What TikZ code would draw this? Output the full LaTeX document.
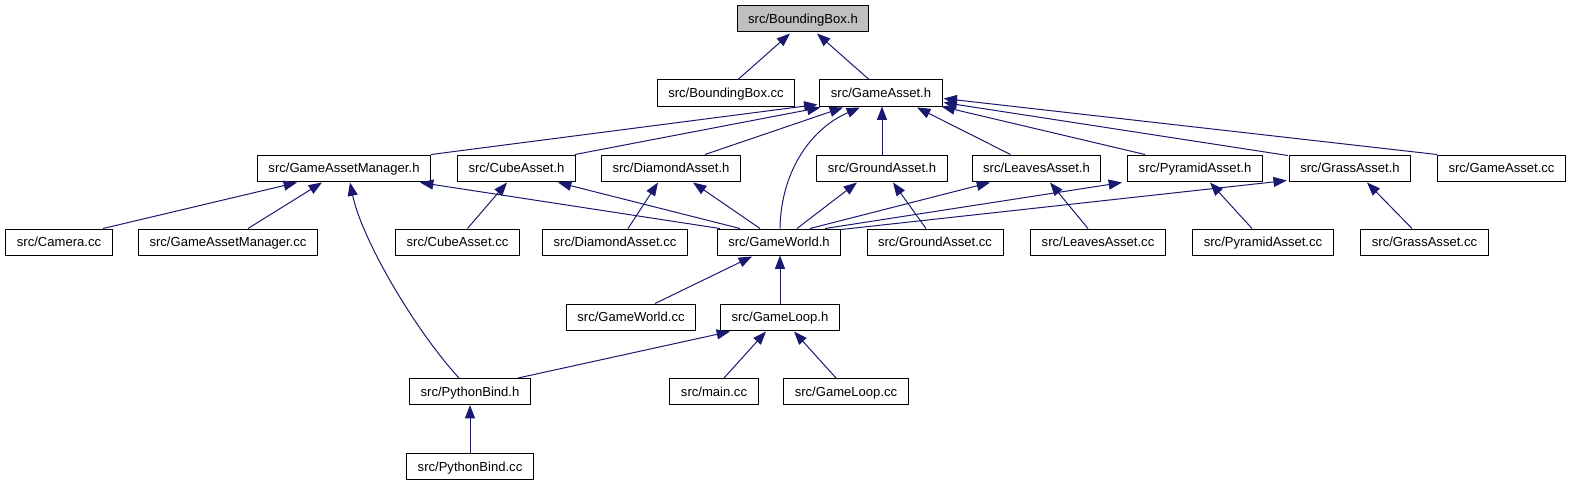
\documentclass[tikz,border=0pt]{standalone}
\usepackage{fontspec}
\setmainfont{Liberation Sans}
\usetikzlibrary{calc,arrows.meta}
\definecolor{edgecol}{RGB}{25,25,112}
\definecolor{hdrgray}{RGB}{191,191,191}
\begin{document}
\begin{tikzpicture}[x=0.75pt,y=-0.75pt,
  box/.style={draw=black, line width=0.75pt, fill=white, minimum height=19.5pt,
    inner xsep=8.25pt, inner ysep=0pt, text height=7.1pt, text depth=0pt,
    font=\fontsize{9.8}{11}\selectfont},
  edge/.style={draw=edgecol, line width=0.75pt, -{Triangle[length=10pt,width=7.5pt]}}]
\useasboundingbox[fill=white] (0,0) rectangle (1573,485);
% row 0
\node[box, fill=hdrgray] (bbh) at (803,19) {src/BoundingBox.h};
% row 1
\node[box] (bbcc) at (726,93) {src/BoundingBox.cc};
\node[box] (gah) at (881,93) {src/GameAsset.h};
% row 2
\node[box] (gamh) at (344,168) {src/GameAssetManager.h};
\node[box] (cubeh) at (516.5,168) {src/CubeAsset.h};
\node[box] (diah) at (671,168) {src/DiamondAsset.h};
\node[box] (groundh) at (882,168) {src/GroundAsset.h};
\node[box] (leavesh) at (1036.5,168) {src/LeavesAsset.h};
\node[box] (pyrh) at (1195,168) {src/PyramidAsset.h};
\node[box] (grassh) at (1350,168) {src/GrassAsset.h};
\node[box] (gacc) at (1501.5,168) {src/GameAsset.cc};
% row 3
\node[box] (camera) at (59,242) {src/Camera.cc};
\node[box] (gamcc) at (228,242) {src/GameAssetManager.cc};
\node[box] (cubecc) at (457.5,242) {src/CubeAsset.cc};
\node[box] (diacc) at (615,242) {src/DiamondAsset.cc};
\node[box] (gwh) at (779,242) {src/GameWorld.h};
\node[box] (groundcc) at (935,242) {src/GroundAsset.cc};
\node[box] (leavescc) at (1098,242) {src/LeavesAsset.cc};
\node[box] (pyrcc) at (1263,242) {src/PyramidAsset.cc};
\node[box] (grasscc) at (1424.5,242) {src/GrassAsset.cc};
% row 4
\node[box] (gwcc) at (631,317) {src/GameWorld.cc};
\node[box] (glh) at (780,317) {src/GameLoop.h};
% row 5
\node[box] (pbh) at (470,391.5) {src/PythonBind.h};
\node[box] (mainc) at (714,391.5) {src/main.cc};
\node[box] (glcc) at (846,391.5) {src/GameLoop.cc};
% row 6
\node[box] (pbcc) at (470,466.5) {src/PythonBind.cc};
% edges to BoundingBox.h
\draw[edge] ($(bbcc.north)+(12,0)$) -- ($(bbh.south)+(-13,1)$);
\draw[edge] ($(gah.north)+(-12,0)$) -- ($(bbh.south)+(14,1)$);
% edges to GameAsset.h
\draw[edge] ($(gamh.north east)+(0,0)$) -- ($(gah.south west)+(-2,-2)$);
\draw[edge] ($(cubeh.north east)+(-1,0)$) -- ($(gah.south west)+(1,1)$);
\draw[edge] ($(diah.north)+(34,0)$) -- ($(gah.south)+(-38,1)$);
\draw[edge] ($(gwh.north)+(1,0)$) .. controls (781,170) and (812,128) .. ($(gah.south)+(-21,1)$);
\draw[edge] (groundh.north) -- (groundh.north |- gah.south);
\draw[edge] ($(leavesh.north)+(-26,0)$) -- ($(gah.south)+(36,1)$);
\draw[edge] ($(pyrh.north)+(-50,0)$) -- ($(gah.south east)+(-1,0)$);
\draw[edge] ($(grassh.north west)+(-1,1)$) -- ($(gah.south east)+(1,-4)$);
\draw[edge] ($(gacc.north west)+(0,0)$) -- ($(gah.south east)+(1,-8)$);
% edges to GameAssetManager.h
\draw[edge] ($(camera.north)+(44,0)$) -- ($(gamh.south)+(-47,1)$);
\draw[edge] ($(gamcc.north)+(20,0)$) -- ($(gamh.south)+(-22,1)$);
\draw[edge] ($(pbh.north)+(-11,0)$) .. controls (415,330) and (362,240) .. ($(gamh.south)+(6,1)$);
\draw[edge] ($(gwh.north west)+(3,0)$) -- ($(gamh.south)+(76,1)$);
% edges to CubeAsset.h / DiamondAsset.h
\draw[edge] ($(cubecc.north)+(10,0)$) -- ($(cubeh.south)+(-9.5,1)$);
\draw[edge] ($(gwh.north)+(-39,0)$) -- ($(cubeh.south)+(41.5,1)$);
\draw[edge] ($(diacc.north)+(13,0)$) -- ($(diah.south)+(-13,1)$);
\draw[edge] ($(gwh.north)+(-19,0)$) -- ($(diah.south)+(22,1)$);
% edges to GroundAsset.h / LeavesAsset.h / PyramidAsset.h / GrassAsset.h
\draw[edge] ($(gwh.north)+(18,0)$) -- ($(groundh.south)+(-25,1)$);
\draw[edge] ($(groundcc.north)+(-9,0)$) -- ($(groundh.south)+(11,1)$);
\draw[edge] ($(gwh.north)+(31,0)$) -- ($(leavesh.south)+(-46.5,1)$);
\draw[edge] ($(leavescc.north)+(-10,0)$) -- ($(leavesh.south)+(13.5,1)$);
\draw[edge] ($(gwh.north)+(46,0)$) -- ($(pyrh.south)+(-73,1)$);
\draw[edge] ($(pyrcc.north)+(-11,0)$) -- ($(pyrh.south)+(15,1)$);
\draw[edge] ($(gwh.north east)+(0,1)$) -- ($(grassh.south west)+(-2,-1)$);
\draw[edge] ($(grasscc.north)+(-12.5,0)$) -- ($(grassh.south)+(17,1)$);
% edges to GameWorld.h
\draw[edge] ($(gwcc.north)+(24,0)$) -- ($(gwh.south)+(-27,1)$);
\draw[edge] (glh.north) -- (glh.north |- gwh.south);
% edges to GameLoop.h
\draw[edge] ($(pbh.north)+(48,0)$) -- ($(glh.south)+(-50,1)$);
\draw[edge] ($(mainc.north)+(10,0)$) -- ($(glh.south)+(-14,1)$);
\draw[edge] ($(glcc.north)+(-10,0)$) -- ($(glh.south)+(14,1)$);
% edge to PythonBind.h
\draw[edge] (pbcc.north) -- (pbh.south);
\end{tikzpicture}
\end{document}
